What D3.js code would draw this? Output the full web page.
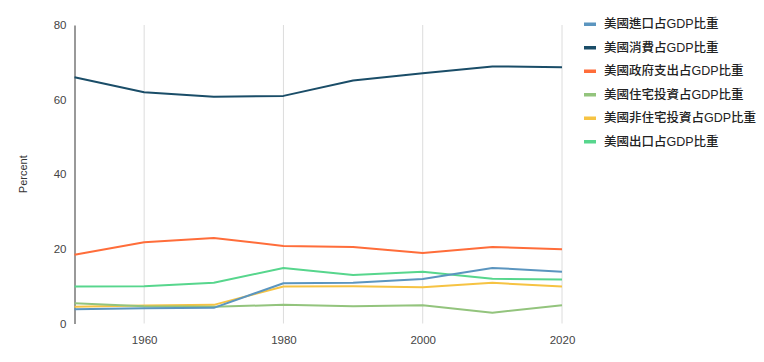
<!DOCTYPE html>
<html>
<head>
<meta charset="utf-8">
<script src="https://cdn.jsdelivr.net/npm/d3@7"></script>
<style>
  body { margin: 0; background: #fff; }
  text { font-family: "Liberation Sans", Arial, sans-serif; }
</style>
</head>
<body>
<div id="content"></div>
<script>
// decades on the x axis
const years = [1950, 1960, 1970, 1980, 1990, 2000, 2010, 2020];

// series, in legend order
const seriesNames = [
    "美國進口占GDP比重",
    "美國消費占GDP比重",
    "美國政府支出占GDP比重",
    "美國住宅投資占GDP比重",
    "美國非住宅投資占GDP比重",
    "美國出口占GDP比重"
];
const imports = [3.8, 4.1, 4.2, 10.8, 10.9, 11.9, 14.9, 13.9];
const consumption = [66.0, 62.0, 60.8, 61.0, 65.1, 67.1, 68.9, 68.7];
const government = [18.4, 21.8, 22.9, 20.8, 20.5, 18.9, 20.5, 19.9];
const residential = [5.4, 4.6, 4.5, 5.0, 4.6, 4.9, 2.9, 4.9];
const nonResidential = [4.5, 4.8, 5.0, 9.9, 10.0, 9.7, 10.9, 9.9];
const exports = [9.9, 10.0, 10.9, 14.9, 13.0, 13.9, 12.0, 11.8];
const seriesColors = ["#5b95bf", "#1a4d68", "#ff6d3a", "#93c47d", "#f6c343", "#57d68d"];

const yTicks = [0, 20, 40, 60, 80];
const xTicks = [1960, 1980, 2000, 2020];
const yLabel = "Percent";

const svgWidth = 764, svgHeight = 362;
const margin = { top: 25, right: 202, bottom: 38.5, left: 74.5 };
const width = svgWidth - margin.left - margin.right;
const height = svgHeight - margin.top - margin.bottom;

const svg = d3.select("#content")
    .append("svg")
    .attr("width", svgWidth)
    .attr("height", svgHeight);
const g = svg.append("g")
    .attr("transform", `translate(${margin.left}, ${margin.top})`);

const x = d3.scaleLinear().domain([1950, 2020]).range([0, width]);
const y = d3.scaleLinear().domain([0, 80]).range([height, 0]);

// vertical grid lines
g.append("g")
    .selectAll("line")
    .data(xTicks)
    .join("line")
    .attr("x1", d => x(d)).attr("x2", d => x(d))
    .attr("y1", 0).attr("y2", height)
    .attr("stroke", "#dcdcdc")
    .attr("stroke-width", 1);

// x axis labels
const xAxis = g.append("g")
    .attr("transform", `translate(0, ${height})`)
    .call(d3.axisBottom(x).tickValues(xTicks).tickFormat(d3.format("d")).tickSize(0).tickPadding(12));
xAxis.select(".domain").remove();
xAxis.selectAll("text").style("font-size", "11.5px").attr("fill", "#444");

// y axis
const yAxis = g.append("g")
    .call(d3.axisLeft(y).tickValues(yTicks).tickSize(0).tickPadding(8));
yAxis.select(".domain").attr("stroke", "#555").attr("stroke-width", 1.2);
yAxis.selectAll("text").style("font-size", "11.5px").attr("fill", "#444");

g.append("text")
    .text(yLabel)
    .attr("transform", `translate(${-48}, ${height / 2}) rotate(270)`)
    .style("font-size", "11px")
    .attr("fill", "#333")
    .style("text-anchor", "middle");

const allSeries = [imports, consumption, government, residential, nonResidential, exports];
const data = seriesNames.map((name, i) => ({
    name: name,
    color: seriesColors[i],
    values: years.map((yr, j) => ({ year: yr, value: allSeries[i][j] }))
}));

const line = d3.line()
    .x(d => x(d.year))
    .y(d => y(d.value));

// draw in reverse so the first series sits on top like the original
g.append("g")
    .style("fill", "none")
    .selectAll("path")
    .data(data.slice().reverse())
    .join("path")
    .attr("d", d => line(d.values))
    .attr("stroke", d => d.color)
    .attr("stroke-width", 2)
    .attr("stroke-linejoin", "round");

// legend
const legend = svg.append("g")
    .attr("transform", "translate(584, 24)");
const items = legend.selectAll("g")
    .data(data)
    .join("g")
    .attr("transform", (d, i) => `translate(0, ${i * 23.5})`);
items.append("rect")
    .attr("x", 0).attr("y", -1.5)
    .attr("width", 12).attr("height", 3.5)
    .attr("fill", d => d.color);
items.append("text")
    .attr("x", 20).attr("y", 0)
    .attr("dy", "0.35em")
    .style("font-size", "12.5px")
    .style("font-family", "'Liberation Sans', 'Noto Sans CJK TC', sans-serif")
    .style("font-weight", 500)
    .attr("fill", "#222")
    .text(d => d.name);
</script>
</body>
</html>
